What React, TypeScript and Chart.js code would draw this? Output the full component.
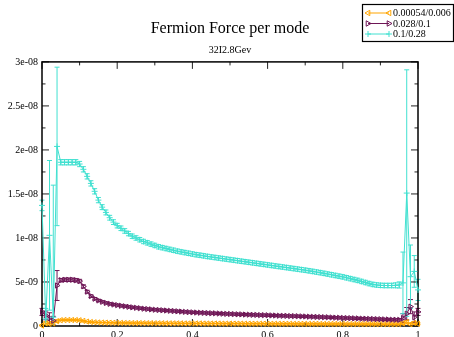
import React, { useEffect, useRef } from "react";
import { Chart, registerables } from "chart.js";

Chart.register(...registerables);

// x positions of the modes (fraction of the spectrum)
const modeFraction = Array.from({ length: 101 }, (_, i) => i / 100);

const seriesNames = ["0.00054/0.006", "0.028/0.1", "0.1/0.28"];
const seriesColors = ["rgb(255,165,0)", "rgb(110,22,86)", "rgb(64,224,208)"];

const titleText = "Fermion Force per mode";
const subtitleText = "32I2.8Gev";

// values in units of 1e-9
const orangeForce = [
  0.05, 0.3, 0.25, 0.3, 0.55, 0.66, 0.68, 0.68, 0.68, 0.67,
  0.65, 0.58, 0.5, 0.45, 0.42, 0.4, 0.39, 0.38, 0.37, 0.36,
  0.35, 0.35, 0.34, 0.34, 0.33, 0.33, 0.33, 0.32, 0.32, 0.32,
  0.31, 0.31, 0.31, 0.3, 0.3, 0.3, 0.3, 0.3, 0.29, 0.29,
  0.29, 0.29, 0.29, 0.28, 0.28, 0.28, 0.28, 0.28, 0.27, 0.27,
  0.27, 0.27, 0.27, 0.27, 0.26, 0.26, 0.26, 0.26, 0.26, 0.26,
  0.25, 0.25, 0.25, 0.25, 0.25, 0.25, 0.25, 0.24, 0.24, 0.24,
  0.24, 0.24, 0.24, 0.24, 0.23, 0.23, 0.23, 0.23, 0.23, 0.23,
  0.23, 0.22, 0.22, 0.22, 0.22, 0.22, 0.22, 0.22, 0.22, 0.21,
  0.21, 0.21, 0.21, 0.21, 0.21, 0.21, 0.3, 0.45, 0.2, 0.35,
  0.25,
];
const orangeErr = [
  0.1, 0.2, 0.2, 0.2, 0.15, 0.05, 0.05, 0.05, 0.05, 0.05,
  0.05, 0.05, 0.04, 0.04, 0.04, 0.04, 0.03, 0.03, 0.03, 0.03,
  0.03, 0.03, 0.03, 0.03, 0.03, 0.03, 0.03, 0.03, 0.03, 0.03,
  0.03, 0.03, 0.03, 0.03, 0.03, 0.03, 0.03, 0.03, 0.03, 0.03,
  0.03, 0.03, 0.03, 0.03, 0.03, 0.03, 0.03, 0.03, 0.03, 0.03,
  0.03, 0.03, 0.03, 0.03, 0.03, 0.03, 0.03, 0.03, 0.03, 0.03,
  0.03, 0.03, 0.03, 0.03, 0.03, 0.03, 0.03, 0.03, 0.03, 0.03,
  0.03, 0.03, 0.03, 0.03, 0.03, 0.03, 0.03, 0.03, 0.03, 0.03,
  0.03, 0.03, 0.03, 0.03, 0.03, 0.03, 0.03, 0.03, 0.03, 0.03,
  0.03, 0.03, 0.03, 0.03, 0.03, 0.04, 0.15, 0.2, 0.15, 0.15,
  0.1,
];

const purpleForce = [
  1.6, 1.2, 0.9, 0.6, 4.6, 5.2, 5.25, 5.25, 5.25, 5.2,
  5.1, 4.5, 3.9, 3.4, 3.1, 2.9, 2.75, 2.62, 2.52, 2.44,
  2.37, 2.3, 2.24, 2.18, 2.12, 2.07, 2.02, 1.97, 1.93, 1.89,
  1.85, 1.82, 1.79, 1.76, 1.73, 1.7, 1.67, 1.64, 1.61, 1.58,
  1.55, 1.53, 1.51, 1.49, 1.47, 1.45, 1.44, 1.42, 1.4, 1.38,
  1.37, 1.35, 1.33, 1.32, 1.3, 1.29, 1.27, 1.26, 1.24, 1.23,
  1.22, 1.2, 1.19, 1.17, 1.16, 1.15, 1.13, 1.12, 1.11, 1.09,
  1.08, 1.06, 1.05, 1.03, 1.02, 1.0, 0.99, 0.97, 0.95, 0.94,
  0.92, 0.9, 0.89, 0.87, 0.86, 0.84, 0.83, 0.81, 0.8, 0.78,
  0.77, 0.75, 0.74, 0.72, 0.71, 0.7, 0.9, 1.4, 2.2, 1.0,
  1.6,
];
const purpleErr = [
  0.4, 0.5, 0.6, 0.5, 1.7, 0.2, 0.2, 0.2, 0.2, 0.2,
  0.2, 0.18, 0.16, 0.15, 0.14, 0.13, 0.12, 0.12, 0.12, 0.12,
  0.12, 0.12, 0.12, 0.12, 0.12, 0.12, 0.12, 0.12, 0.12, 0.12,
  0.12, 0.12, 0.12, 0.12, 0.12, 0.12, 0.12, 0.12, 0.12, 0.12,
  0.12, 0.12, 0.12, 0.12, 0.12, 0.12, 0.12, 0.12, 0.12, 0.12,
  0.12, 0.12, 0.12, 0.12, 0.12, 0.12, 0.12, 0.12, 0.12, 0.12,
  0.12, 0.12, 0.12, 0.12, 0.12, 0.12, 0.12, 0.12, 0.12, 0.12,
  0.12, 0.12, 0.12, 0.12, 0.12, 0.12, 0.12, 0.12, 0.12, 0.12,
  0.12, 0.12, 0.12, 0.12, 0.12, 0.12, 0.12, 0.12, 0.12, 0.12,
  0.12, 0.12, 0.12, 0.12, 0.12, 0.15, 0.5, 0.7, 0.8, 0.6,
  0.4,
];

const cyanForce = [
  13.7, 0.8, 10.3, 1.0, 20.4, 18.6, 18.6, 18.6, 18.6, 18.6,
  18.4, 17.8, 17.0, 16.2, 15.3, 14.3, 13.5, 12.9, 12.3, 11.8,
  11.4, 11.1, 10.8, 10.5, 10.2, 10.0, 9.8, 9.6, 9.45, 9.3,
  9.15, 9.0, 8.9, 8.8, 8.7, 8.6, 8.5, 8.42, 8.34, 8.26,
  8.18, 8.1, 8.04, 7.97, 7.9, 7.84, 7.78, 7.72, 7.66, 7.6,
  7.54, 7.48, 7.42, 7.36, 7.3, 7.24, 7.18, 7.12, 7.06, 7.0,
  6.94, 6.88, 6.82, 6.76, 6.7, 6.64, 6.58, 6.52, 6.46, 6.4,
  6.34, 6.27, 6.2, 6.13, 6.06, 5.98, 5.9, 5.82, 5.74, 5.66,
  5.58, 5.48, 5.38, 5.28, 5.18, 5.06, 4.94, 4.82, 4.72, 4.66,
  4.62, 4.6, 4.6, 4.6, 4.62, 4.66, 4.9, 15.1, 5.6, 6.2,
  4.1,
];
const cyanErr = [
  0.6, 1.2, 8.5, 15.0, 9.0, 0.3, 0.3, 0.3, 0.3, 0.3,
  0.3, 0.3, 0.3, 0.3, 0.3, 0.3, 0.28, 0.28, 0.27, 0.27,
  0.26, 0.26, 0.26, 0.25, 0.25, 0.25, 0.25, 0.25, 0.25, 0.25,
  0.25, 0.25, 0.25, 0.25, 0.25, 0.25, 0.25, 0.25, 0.25, 0.25,
  0.25, 0.25, 0.25, 0.25, 0.25, 0.25, 0.25, 0.25, 0.25, 0.25,
  0.25, 0.25, 0.25, 0.25, 0.25, 0.25, 0.25, 0.25, 0.25, 0.25,
  0.25, 0.25, 0.25, 0.25, 0.25, 0.25, 0.25, 0.25, 0.25, 0.25,
  0.25, 0.25, 0.25, 0.25, 0.25, 0.25, 0.25, 0.25, 0.25, 0.25,
  0.25, 0.25, 0.25, 0.25, 0.25, 0.25, 0.25, 0.25, 0.25, 0.25,
  0.25, 0.25, 0.25, 0.25, 0.28, 0.35, 3.5, 14.0, 3.6, 1.8,
  1.2,
];

const xTickLabels = ["0", "0.2", "0.4", "0.6", "0.8", "1"];
const yTickLabels = ["0", "5e-09", "1e-08", "1.5e-08", "2e-08", "2.5e-08", "3e-08"];
const xMajorTicks = [0, 0.2, 0.4, 0.6, 0.8, 1];
const xMinorTicks = [0.1, 0.3, 0.5, 0.7, 0.9];
const yMajorTicks = [0, 5, 10, 15, 20, 25, 30];
const yMinorTicks = [2.5, 7.5, 12.5, 17.5, 22.5, 27.5];

const seriesValues = [orangeForce, purpleForce, cyanForce];
const seriesErrors = [orangeErr, purpleErr, cyanErr];
const seriesMarkers = ["triangle", "triangle", "cross"];
const seriesRotation = [-90, 90, 0];

const FONT = "'Liberation Serif', 'DejaVu Serif', serif";

const framePlugin = {
  id: "frame",
  beforeDatasetsDraw(chart: any) {
    const { ctx, chartArea: a, scales } = chart;
    const xs = scales.x;
    const ys = scales.y;
    ctx.save();
    // error bars
    ctx.beginPath();
    ctx.rect(a.left - 6, a.top - 6, a.right - a.left + 12, a.bottom - a.top + 6);
    ctx.clip();
    seriesValues.forEach((vals, si) => {
      const errs = seriesErrors[si];
      ctx.strokeStyle = seriesColors[si];
      ctx.lineWidth = 1;
      vals.forEach((v, i) => {
        const x = xs.getPixelForValue(modeFraction[i]);
        const yt = ys.getPixelForValue(v + errs[i]);
        const yb = ys.getPixelForValue(Math.max(0, v - errs[i]));
        ctx.beginPath();
        ctx.moveTo(x, yt);
        ctx.lineTo(x, yb);
        ctx.moveTo(x - 2.5, yt);
        ctx.lineTo(x + 2.5, yt);
        ctx.moveTo(x - 2.5, yb);
        ctx.lineTo(x + 2.5, yb);
        ctx.stroke();
      });
    });
    ctx.restore();

    ctx.save();
    ctx.strokeStyle = "#222";
    ctx.lineWidth = 1;
    const tick = (x1: number, y1: number, x2: number, y2: number) => {
      ctx.beginPath();
      ctx.moveTo(x1, y1);
      ctx.lineTo(x2, y2);
      ctx.stroke();
    };
    xMajorTicks.forEach((v) => {
      const x = xs.getPixelForValue(v);
      tick(x, a.bottom, x, a.bottom - 7);
      tick(x, a.top, x, a.top + 7);
    });
    xMinorTicks.forEach((v) => {
      const x = xs.getPixelForValue(v);
      tick(x, a.bottom, x, a.bottom - 3.5);
      tick(x, a.top, x, a.top + 3.5);
    });
    yMajorTicks.forEach((v) => {
      const y = ys.getPixelForValue(v);
      tick(a.left, y, a.left + 7, y);
      tick(a.right, y, a.right - 7, y);
    });
    yMinorTicks.forEach((v) => {
      const y = ys.getPixelForValue(v);
      tick(a.left, y, a.left + 3.5, y);
      tick(a.right, y, a.right - 3.5, y);
    });
    ctx.strokeStyle = "#000";
    ctx.lineWidth = 1.5;
    ctx.strokeRect(a.left, a.top, a.right - a.left, a.bottom - a.top);
    ctx.restore();
  },
  afterDraw(chart: any) {
    const { ctx } = chart;
    ctx.save();
    // legend box
    const bx = 362.5, by = 4.5, bw = 91, bh = 37;
    ctx.fillStyle = "#fff";
    ctx.fillRect(bx, by, bw, bh);
    ctx.strokeStyle = "#000";
    ctx.lineWidth = 1.2;
    ctx.strokeRect(bx, by, bw, bh);
    ctx.font = `10px ${FONT}`;
    ctx.textBaseline = "middle";
    ctx.textAlign = "left";
    seriesNames.forEach((name, si) => {
      const y = 13 + si * 10.5;
      const x1 = 368, x2 = 389;
      ctx.strokeStyle = seriesColors[si];
      ctx.lineWidth = 1;
      ctx.beginPath();
      ctx.moveTo(x1, y);
      ctx.lineTo(x2, y);
      ctx.stroke();
      [x1, x2].forEach((px) => {
        (Chart as any).helpers?.drawPoint
          ? null
          : null;
      });
      const meta = chart.getDatasetMeta(si);
      const el = meta.data[0];
      if (el) {
        const opts = {
          pointStyle: seriesMarkers[si],
          radius: 3,
          rotation: seriesRotation[si],
          borderWidth: 1,
        };
        ctx.fillStyle = "rgba(0,0,0,0)";
        ctx.strokeStyle = seriesColors[si];
        drawMarker(ctx, opts, x1, y);
        drawMarker(ctx, opts, x2, y);
      }
      ctx.fillStyle = "#000";
      ctx.fillText(name, 393, y + 0.5);
    });
    ctx.restore();
  },
};

function drawMarker(ctx: CanvasRenderingContext2D, o: any, x: number, y: number) {
  const r = o.radius;
  ctx.save();
  ctx.translate(x, y);
  ctx.rotate((o.rotation * Math.PI) / 180);
  ctx.beginPath();
  if (o.pointStyle === "cross") {
    ctx.moveTo(0, -r);
    ctx.lineTo(0, r);
    ctx.moveTo(-r, 0);
    ctx.lineTo(r, 0);
  } else {
    const s = r * 1.5;
    ctx.moveTo(0, -r);
    ctx.lineTo(s * 0.6, r * 0.6);
    ctx.lineTo(-s * 0.6, r * 0.6);
    ctx.closePath();
  }
  ctx.lineWidth = 1;
  ctx.stroke();
  ctx.restore();
}

export default function App() {
  const ref = useRef<HTMLCanvasElement | null>(null);
  useEffect(() => {
    if (!ref.current) return;
    const datasets = seriesNames.map((name, si) => ({
      label: name,
      data: seriesValues[si].map((v, i) => ({ x: modeFraction[i], y: v })),
      borderColor: seriesColors[si],
      backgroundColor: "rgba(0,0,0,0)",
      pointBorderColor: seriesColors[si],
      pointBackgroundColor: "rgba(0,0,0,0)",
      borderWidth: 1,
      pointRadius: 3,
      pointBorderWidth: 1,
      pointStyle: seriesMarkers[si],
      pointRotation: seriesRotation[si],
      tension: 0,
      clip: false as any,
      order: 2 - si,
    }));
    const chart = new Chart(ref.current, {
      type: "line",
      data: { datasets },
      plugins: [framePlugin],
      options: {
        animation: false,
        responsive: false,
        events: [],
        layout: { padding: { left: 0, right: 36, top: 0, bottom: 0 } },
        plugins: {
          legend: { display: false },
          tooltip: { enabled: false },
          title: {
            display: true,
            text: titleText,
            fullSize: false,
            color: "#000",
            font: { family: FONT, size: 16, weight: "normal" },
            padding: { top: 19, bottom: 5.7 },
          },
          subtitle: {
            display: true,
            text: subtitleText,
            fullSize: false,
            color: "#000",
            font: { family: FONT, size: 10, weight: "normal" },
            padding: { top: 0, bottom: 6 },
          },
        },
        scales: {
          x: {
            type: "linear",
            min: 0,
            max: 1,
            grid: { display: false, drawTicks: false },
            border: { display: false },
            ticks: {
              stepSize: 0.2,
              padding: 3,
              color: "#000",
              font: { family: FONT, size: 10 },
              maxRotation: 0,
              callback: (_v: any, i: number) => xTickLabels[i],
            },
            afterFit: (s: any) => {
              s.height = 24;
            },
          },
          y: {
            type: "linear",
            min: 0,
            max: 30,
            grid: { display: false, drawTicks: false },
            border: { display: false },
            ticks: {
              stepSize: 5,
              padding: 4,
              color: "#000",
              font: { family: FONT, size: 10 },
              callback: (_v: any, i: number) => yTickLabels[i],
            },
            afterFit: (s: any) => {
              s.width = 42;
            },
          },
        },
      } as any,
    });
    return () => chart.destroy();
  }, []);
  return (
    <div
      style={{
        position: "fixed",
        left: 0,
        top: 0,
        width: 454,
        height: 337,
        overflow: "hidden",
        background: "#fff",
      }}
    >
      <canvas ref={ref} width={454} height={350} style={{ display: "block" }} />
    </div>
  );
}
